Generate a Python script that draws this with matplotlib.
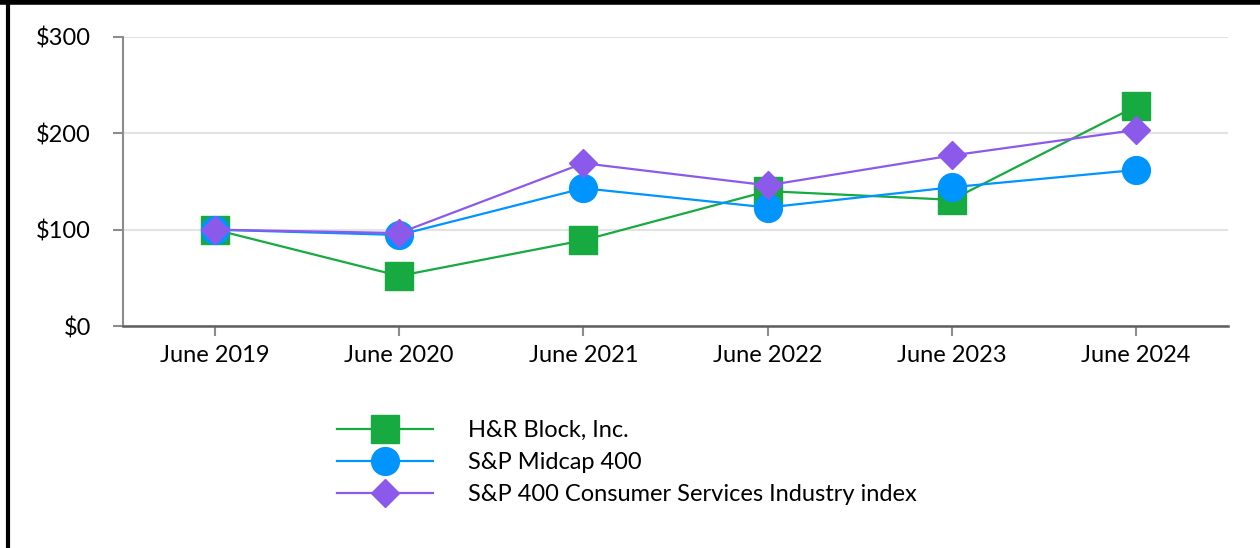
import matplotlib.pyplot as plt
from matplotlib.lines import Line2D

plt.rcParams['font.family'] = ['Lato', 'DejaVu Sans']

years = ["June 2019", "June 2020", "June 2021", "June 2022", "June 2023", "June 2024"]
hrb = [100, 52, 89, 140, 131, 228]
midcap = [100, 94.5, 143, 123, 144, 162]
consumer = [100, 96.5, 169, 146, 177, 203.5]
yticks = [0, 100, 200, 300]
ytick_labels = ["$0", "$100", "$200", "$300"]

GREEN = "#16AA41"
BLUE = "#0094FF"
PURPLE = "#8C5AEB"
FS = 17

fig = plt.figure(figsize=(12.6, 5.48), dpi=100)
ax = fig.add_axes([123 / 1260, 1 - 326 / 548, (1228 - 123) / 1260, (326 - 37) / 548])

x = range(len(years))
ax.plot(x, hrb, marker='s', ms=20, color=GREEN, lw=1.6, label="H&R Block, Inc.", zorder=3)
ax.plot(x, midcap, marker='o', ms=20, color=BLUE, lw=1.6, label="S&P Midcap 400", zorder=4)
ax.plot(x, consumer, marker='D', ms=14, color=PURPLE, lw=1.6,
        label="S&P 400 Consumer Services Industry index", zorder=5)

ax.set_xlim(-0.5, len(years) - 0.5)
ax.set_ylim(0, 300)
ax.set_yticks(yticks)
ax.set_yticklabels(ytick_labels)
ax.set_xticks(list(x))
ax.set_xticklabels(years)
ax.yaxis.grid(True, color="#e3e3e3", lw=1.5)
ax.set_axisbelow(True)

for s in ["top", "right"]:
    ax.spines[s].set_visible(False)
ax.spines["left"].set_color("#8c8c8c")
ax.spines["left"].set_linewidth(1.5)
ax.spines["bottom"].set_color("#5f5f5f")
ax.spines["bottom"].set_linewidth(1.8)
ax.tick_params(axis="y", length=7, width=1.5, color="#8c8c8c", pad=16, labelsize=FS)
ax.tick_params(axis="x", length=7, width=1.5, color="#8c8c8c", pad=7, labelsize=FS)

fig.legend(loc="upper left", bbox_to_anchor=(316 / 1260, 1 - 399 / 548), frameon=False,
           fontsize=FS, handlelength=4.07, handletextpad=1.48, labelspacing=0.47,
           markerscale=1.0)

# frame lines on left and top
fig.add_artist(Line2D([8 / 1260, 8 / 1260], [0, 1], color="black", lw=3, transform=fig.transFigure))
fig.add_artist(Line2D([0, 1], [1 - 2 / 548, 1 - 2 / 548], color="black", lw=4, transform=fig.transFigure))

plt.savefig("out.png", dpi=100)
